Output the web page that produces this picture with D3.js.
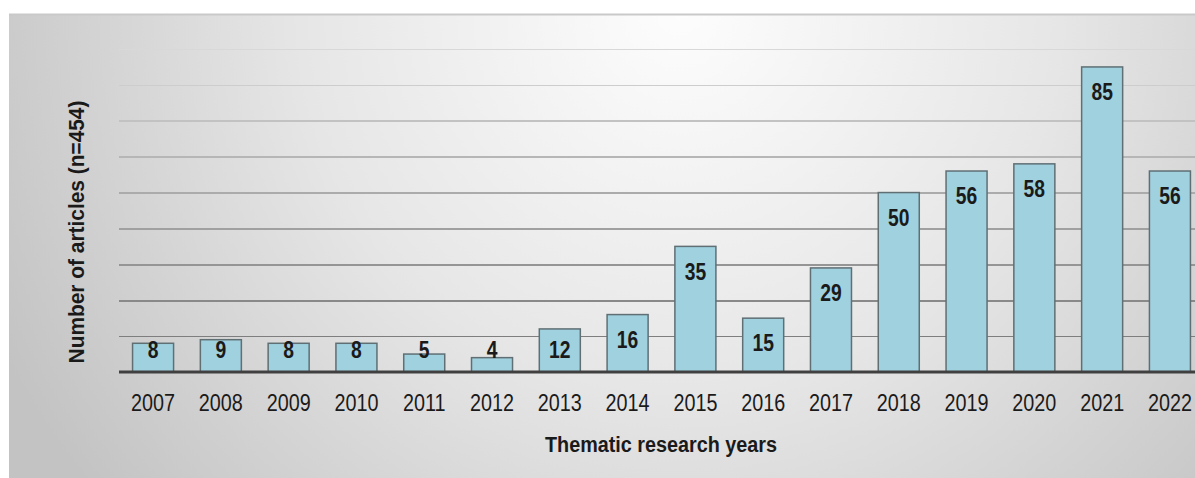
<!DOCTYPE html>
<html>
<head>
<meta charset="utf-8">
<script src="https://cdn.jsdelivr.net/npm/d3@7"></script>
<style>
  html, body { margin: 0; padding: 0; background: #ffffff; }
  svg { display: block; }
  text { font-family: "Liberation Sans", Arial, sans-serif; fill: #1a1a1a; }
</style>
</head>
<body>
<svg id="chart" width="1195" height="478"></svg>
<script>
// Articles per year
const years = ["2007","2008","2009","2010","2011","2012","2013","2014","2015","2016","2017","2018","2019","2020","2021","2022"];
const articles = [8, 9, 8, 8, 5, 4, 12, 16, 35, 15, 29, 50, 56, 58, 85, 56];
const gridTicks = [10, 20, 30, 40, 50, 60, 70, 80, 90];
const yTitle = "Number of articles (n=454)";
const xTitle = "Thematic research years";

const W = 1195, H = 478;
const svg = d3.select("#chart");
const defs = svg.append("defs");

// panel background: soft radial sheen
const bg = defs.append("radialGradient")
  .attr("id", "panelBg")
  .attr("gradientUnits", "userSpaceOnUse")
  .attr("cx", 680).attr("cy", 10).attr("r", 760);
bg.append("stop").attr("offset", 0).attr("stop-color", "#fdfdfd");
bg.append("stop").attr("offset", 0.5).attr("stop-color", "#e6e6e6");
bg.append("stop").attr("offset", 1).attr("stop-color", "#c3c3c3");

svg.append("rect")
  .attr("x", 9).attr("y", 14).attr("width", W - 9).attr("height", H - 14)
  .attr("fill", "url(#panelBg)");
svg.append("line")
  .attr("x1", 9).attr("x2", W).attr("y1", 14.5).attr("y2", 14.5)
  .attr("stroke", "#c9c9c9").attr("stroke-width", 2);

const plot = { left: 119, right: 1204, top: 49, bottom: 372 };

const x = d3.scaleBand()
  .domain(years)
  .range([plot.left, plot.right])
  .paddingInner(0.395)
  .paddingOuter(0.2);

const y = d3.scaleLinear()
  .domain([0, 90])
  .range([plot.bottom, plot.top]);

// gridlines get lighter toward the top
const gridShade = d3.scaleLinear()
  .domain([10, 90])
  .range(["#7e7e7e", "#d8d8d8"])
  .interpolate(d3.interpolateRgb);

// horizontal gridlines
const gridAxis = d3.axisLeft(y)
  .tickValues(gridTicks)
  .tickSize(-(W - plot.left))
  .tickFormat("");
const grid = svg.append("g")
  .attr("transform", `translate(${plot.left},0)`)
  .call(gridAxis);
grid.select(".domain").remove();
grid.selectAll(".tick line")
  .attr("stroke", d => gridShade(d))
  .attr("stroke-width", 1.6)
  .attr("shape-rendering", "crispEdges");

// bars
svg.append("g").selectAll("rect")
  .data(years)
  .join("rect")
  .attr("x", d => x(d))
  .attr("y", (d, i) => y(articles[i]))
  .attr("width", x.bandwidth())
  .attr("height", (d, i) => y(0) - y(articles[i]))
  .attr("fill", "#9fd1df")
  .attr("stroke", "#5f6f74")
  .attr("stroke-width", 1.5);

// baseline
svg.append("line")
  .attr("x1", plot.left).attr("x2", W)
  .attr("y1", plot.bottom).attr("y2", plot.bottom)
  .attr("stroke", "#404040").attr("stroke-width", 3);

// value labels inside the bars (narrow bold face, condensed horizontally)
svg.append("g").selectAll("g")
  .data(years)
  .join("g")
  .attr("transform", (d, i) =>
    `translate(${x(d) + x.bandwidth() / 2},${Math.min(y(articles[i]) + 25, plot.bottom - 22)}) scale(0.84,1)`)
  .append("text")
  .attr("dy", "0.36em")
  .attr("text-anchor", "middle")
  .attr("font-size", 23)
  .attr("font-weight", "bold")
  .text((d, i) => articles[i]);

// year axis
const xAxis = d3.axisBottom(x).tickSize(0).tickPadding(23);
const xg = svg.append("g")
  .attr("transform", `translate(0,${plot.bottom})`)
  .call(xAxis);
xg.select(".domain").remove();
xg.selectAll("text")
  .attr("font-size", 23)
  .attr("font-family", "'Liberation Sans', Arial, sans-serif")
  .attr("fill", "#1a1a1a")
  .attr("transform", "scale(0.86,1)");

// axis titles
svg.append("g")
  .attr("transform", "translate(661,444) scale(0.9,1)")
  .append("text")
  .attr("dy", "0.36em")
  .attr("text-anchor", "middle")
  .attr("font-size", 22)
  .attr("font-weight", "bold")
  .text(xTitle);

svg.append("g")
  .attr("transform", "translate(76,232) rotate(-90) scale(0.95,1)")
  .append("text")
  .attr("dy", "0.36em")
  .attr("text-anchor", "middle")
  .attr("font-size", 22)
  .attr("font-weight", "bold")
  .text(yTitle);
</script>
</body>
</html>
